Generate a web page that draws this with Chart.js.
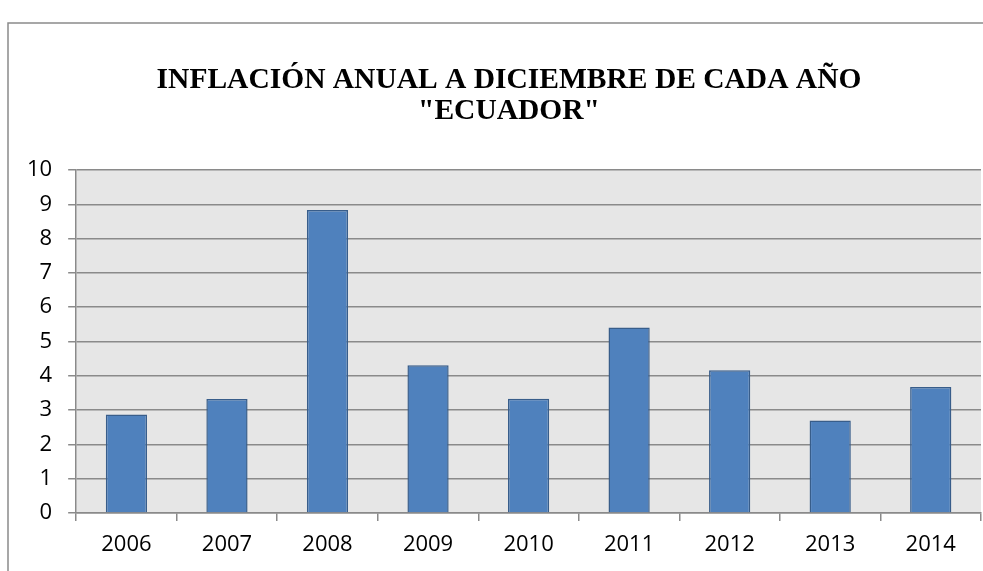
<!DOCTYPE html>
<html>
<head>
<meta charset="utf-8">
<script src="https://cdn.jsdelivr.net/npm/chart.js@4/dist/chart.umd.min.js"></script>
<style>
  html, body { margin: 0; padding: 0; background: #fff; }
  #wrap { width: 983px; height: 571px; position: relative; }
</style>
</head>
<body>
<div id="wrap"><canvas id="chart"></canvas></div>
<script>
const years = ["2006", "2007", "2008", "2009", "2010", "2011", "2012", "2013", "2014"];
const inflation = [2.87, 3.32, 8.83, 4.31, 3.33, 5.41, 4.16, 2.70, 3.67];
const titleLines = ["INFLACIÓN ANUAL A DICIEMBRE DE CADA AÑO", "\"ECUADOR\""];

// plot background + outer frame like the Excel chart
const framePlugin = {
  id: "frame",
  afterLayout(chart) {
    // the title sits a bit right of the canvas centre in the original
    if (chart.titleBlock) {
      chart.titleBlock.left += 13;
      chart.titleBlock.right += 13;
    }
  },
  beforeDraw(chart) {
    const { ctx, chartArea } = chart;
    ctx.save();
    ctx.fillStyle = "#e6e6e6";
    ctx.fillRect(chartArea.left, chartArea.top, chartArea.right - chartArea.left, chartArea.bottom - chartArea.top);
    ctx.strokeStyle = "#8a8a8a";
    ctx.lineWidth = 1.5;
    ctx.strokeRect(8, 23, 1000, 600);
    ctx.restore();
  }
};

const ctx = document.getElementById("chart").getContext("2d");

new Chart(ctx, {
  type: "bar",
  data: {
    labels: years,
    datasets: [{
      label: "Inflación",
      data: inflation,
      backgroundColor: "#4f81bd",
      borderColor: "#385d8a",
      borderWidth: 1.5,
      categoryPercentage: 1,
      barPercentage: 0.41
    }]
  },
  options: {
    responsive: true,
    maintainAspectRatio: false,
    animation: false,
    layout: { padding: { left: 11, right: 2, top: 20, bottom: 2 } },
    plugins: {
      legend: { display: false },
      tooltip: { enabled: false },
      title: {
        display: true,
        text: titleLines,
        color: "#000",
        font: { family: "'Liberation Serif', 'Times New Roman', serif", size: 29.5, weight: "bold", lineHeight: 1.05 },
        padding: { top: 44.5, bottom: 43.5 }
      }
    },
    scales: {
      x: {
        grid: { offset: true, drawOnChartArea: false, drawTicks: true, tickLength: 8, color: "#8a8a8a", lineWidth: 1.5 },
        border: { display: true, color: "#8a8a8a", width: 1.5 },
        ticks: { color: "#000", padding: 13, font: { family: "'Open Sans', sans-serif", size: 22, lineHeight: 1 } }
      },
      y: {
        min: 0,
        max: 10,
        ticks: { stepSize: 1, color: "#000", padding: 16, font: { family: "'Open Sans', sans-serif", size: 22 } },
        grid: { color: "#8a8a8a", lineWidth: 1.5, tickLength: 8 },
        border: { display: true, color: "#8a8a8a", width: 1.5 }
      }
    }
  },
  plugins: [framePlugin]
});
</script>
</body>
</html>
